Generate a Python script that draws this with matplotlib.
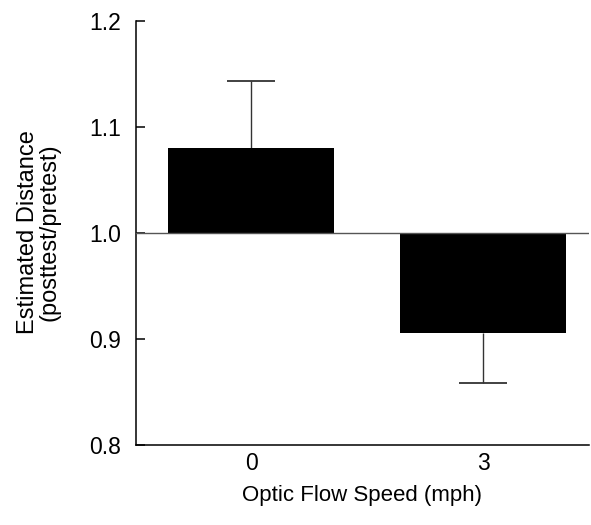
import numpy as np
import matplotlib
matplotlib.use("Agg")
import matplotlib.pyplot as plt

plt.rcParams['font.family'] = ['Liberation Sans', 'DejaVu Sans']

# data
speeds = ['0', '3']
ratio = [1.08, 0.906]
err_up = [0.063, 0.0]
err_down = [0.0, 0.048]

fig = plt.figure(figsize=(5.91, 5.25), dpi=100)
ax = fig.add_axes([0.2301, 0.1524, 0.7665, 0.8082])

x = np.arange(len(speeds))
r = np.array(ratio)
heights = r - 1.0
ax.bar(x, heights, bottom=1.0, width=0.716, color='black', zorder=2)

# one-sided error bars (away from the 1.0 baseline)
ends = r + np.array(err_up) - np.array(err_down)
ax.vlines(x, r, ends, color='#333333', lw=1.0, zorder=1)
ax.hlines(ends, x - 0.105, x + 0.105, color='#333333', lw=1.3, zorder=1)

ax.axhline(1.0, color='#555555', lw=1.0, zorder=3)

ax.set_xlim(-0.496, 1.457)
ax.set_ylim(0.8, 1.2)
ax.set_yticks([0.8, 0.9, 1.0, 1.1, 1.2])
ax.set_yticklabels(['0.8', '0.9', '1.0', '1.1', '1.2'])
ax.set_xticks(x)
ax.set_xticklabels(speeds)

for s in ['top', 'right']:
    ax.spines[s].set_visible(False)
for s in ['left', 'bottom']:
    ax.spines[s].set_linewidth(1.1)
    ax.spines[s].set_color('black')

ax.tick_params(axis='y', direction='in', length=6.5, width=1.1, pad=11, labelsize=16.5)
ax.tick_params(axis='x', length=0, pad=5, labelsize=16.5)

ax.set_xlabel('Optic Flow Speed (mph)', fontsize=16, labelpad=7)
fig.text(39 / 591, 0.558, 'Estimated Distance\n(posttest/pretest)', rotation=90,
         ha='center', va='center', multialignment='center', fontsize=17,
         linespacing=0.95)

plt.savefig('out.png', dpi=100)
